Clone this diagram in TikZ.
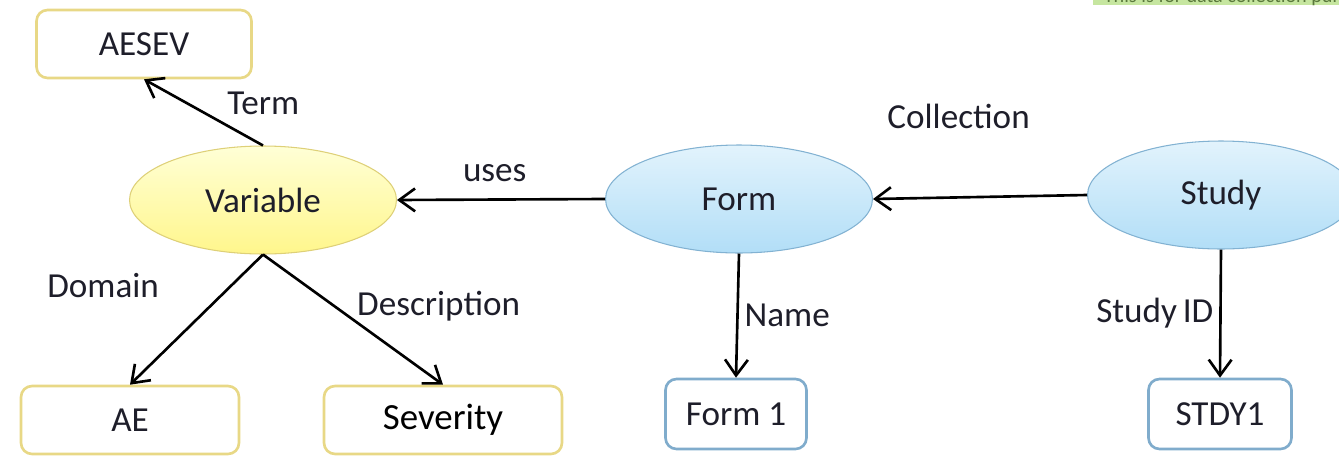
\documentclass[tikz,border=0pt]{standalone}
\usepackage{fontspec}
\setmainfont{Carlito}
\usetikzlibrary{arrows.meta, shapes.geometric, positioning}

\definecolor{textdark}{RGB}{30,30,42}
\definecolor{boxyellow}{RGB}{232,216,134}
\definecolor{boxblue}{RGB}{128,172,204}
\definecolor{ellyellow}{RGB}{222,208,120}
\definecolor{ellblue}{RGB}{130,178,210}
\definecolor{notegreen}{RGB}{198,230,160}

\tikzset{
	concept/.style={ellipse, inner sep=0pt, minimum width=5.34cm, minimum height=2.16cm, line width=0.6pt},
	yconcept/.style={concept, draw=ellyellow, top color={rgb,255:red,255;green,255;blue,214}, bottom color={rgb,255:red,255;green,246;blue,140}},
	bconcept/.style={concept, draw=ellblue, top color={rgb,255:red,226;green,243;blue,252}, bottom color={rgb,255:red,178;green,222;blue,247}},
	valuebox/.style={rectangle, rounded corners=0.22cm, line width=1.5pt, fill=white},
	yvalue/.style={valuebox, draw=boxyellow},
	bvalue/.style={valuebox, draw=boxblue}
}

\begin{document}
\begin{tikzpicture}[x=0.02cm, y=-0.02cm, ->, >={Straight Barb[length=9pt, width=13pt]}, line width=1.5pt, auto, font=\fontsize{20}{24}\selectfont, text=textdark]
	\useasboundingbox (0,0) rectangle (1339,460);
	\clip (0,0) rectangle (1339,460);

	% note at the top edge, cut off as in the source
	\node[fill=notegreen, anchor=south west, inner sep=1pt, text depth=0pt, minimum width=4.94cm, align=left, font=\fontsize{11.5}{13}\selectfont, text={rgb,255:red,90;green,120;blue,60}] (note) at (1092,6) {\hspace{5pt}This is for data collection purpose};

	\node[yconcept] (var) at (263,200) {Variable};
	\node[bconcept] (form) at (739,199) {Form};
	\node[bconcept] (study) at (1221,195) {Study};

	\node[yvalue, minimum width=4.3cm, minimum height=1.36cm] (aesev) at (144,44) {AESEV};
	\node[yvalue, minimum width=4.36cm, minimum height=1.36cm] (ae) at (130,420) {AE};
	\node[yvalue, minimum width=4.76cm, minimum height=1.36cm, text=black, font=\fontsize{21}{24}\selectfont] (sev) at (443,420) {Severity};
	\node[bvalue, minimum width=2.82cm, minimum height=1.4cm] (form1) at (736,414) {Form 1};
	\node[bvalue, minimum width=2.86cm, minimum height=1.4cm] (stdy) at (1220,414) {STDY1};

	\path (var.north) edge node[pos=.36, above right] {Term} (aesev.south)
		(form.west) edge node[pos=.53, above=6pt] {uses} (var.east)
		(study.west) edge node[pos=.6, above=1.22cm] {Collection} (form.east)
		(var.south) edge node[pos=.24, left=1.3cm] {Domain} (ae.north)
		(var.south) edge node[pos=.4, right=.3cm] {Description} (sev.north)
		(form.south) edge node[right] {Name} (form1.north)
		(study.south) edge node[left] {Study\,ID} (stdy.north);
\end{tikzpicture}
\end{document}
